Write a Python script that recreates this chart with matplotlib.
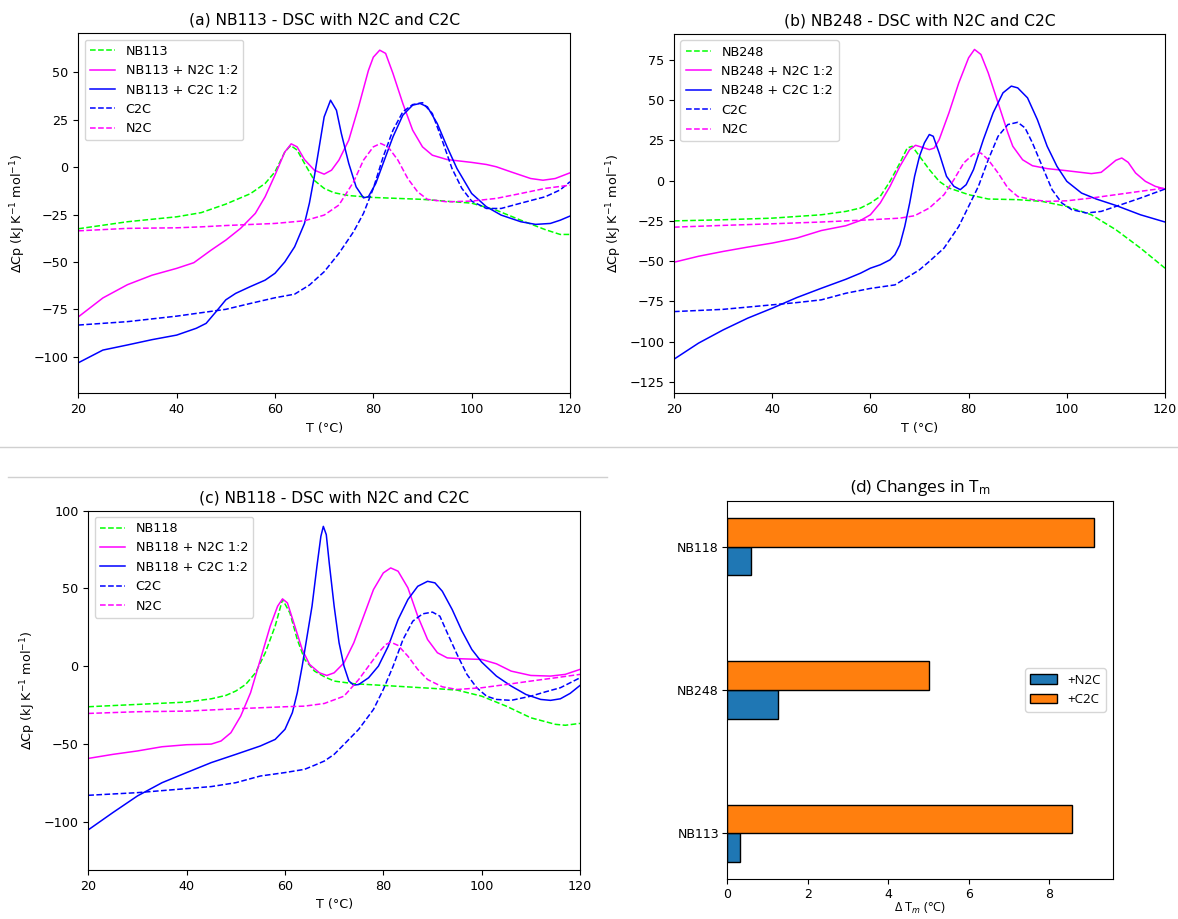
import matplotlib
matplotlib.use("Agg")
import matplotlib.pyplot as plt
from matplotlib.lines import Line2D
import numpy as np

plt.rcParams["font.family"] = ["DejaVu Sans"]
plt.rcParams["mathtext.fontset"] = "dejavusans"
plt.rcParams["mathtext.rm"] = "Open Sans"
plt.rcParams["mathtext.it"] = "Open Sans:italic"

# ---------------- (a) NB113 ----------------
a_prot_T = [20, 30, 40, 45, 50, 55, 58, 60, 62, 63.2, 64.5, 66, 68, 70, 72, 75, 80, 90, 100, 105, 110, 115, 118, 120]
a_prot_cp = [-32.5, -28.8, -26.2, -24, -19.5, -14, -8.6, -2.5, 8, 11.4, 9, 2, -7, -11.2, -13.5, -15, -16, -17, -19,
             -22.7, -28, -33, -35.5, -35.5]

a_n2c_mix_T = [20, 25, 30, 35, 40, 43.5, 47, 50, 53, 56, 58, 60, 62, 63.3, 64.5, 66, 68, 70, 71.5, 73, 75, 77, 79, 80,
               81.3, 82.5, 84, 86, 88, 90, 92, 95, 100, 103, 105, 108, 112, 114.5, 117, 120]
a_n2c_mix_cp = [-79, -69, -62, -57, -53.4, -50.4, -43.8, -38.5, -32.3, -24.4, -15.6, -4.2, 8, 12.3, 10.7, 4, -1.6, -3.7,
                -1.6, 3.7, 14.2, 31.8, 51, 58, 61.7, 60, 49.4, 33.6, 19.5, 10.7, 6.3, 4, 2.5, 1.4, 0.2, -2.5, -6, -6.9,
                -6, -3]

a_c2c_mix_T = [20, 25, 30, 35, 40, 44, 46, 48, 50, 52, 55, 58, 60, 62, 64, 66, 67, 68, 69, 70, 71.3, 72.5, 73.5, 75,
               76.5, 78, 79, 80.5, 82, 84, 86, 88, 89.5, 91, 93, 95, 97, 100, 103, 106, 110, 113, 116, 118, 120]
a_c2c_mix_cp = [-103.2, -96.5, -93.8, -91, -88.6, -85, -82.4, -76.3, -70, -66.6, -63, -59.6, -56, -50, -42, -29.7, -19,
                -5, 10.7, 26.5, 35.3, 30, 17.7, 2, -10.4, -16.2, -15.6, -8.6, 2, 16, 27.4, 32.7, 33.6, 31.8, 23, 10.7,
                -0.7, -13.9, -20.9, -25.3, -28.8, -30.2, -29.7, -28, -25.8]

a_c2c_T = [20, 30, 40, 50, 55, 60, 64, 67, 70, 73, 76, 78, 80, 82, 84, 86, 88, 90, 92, 94, 96, 98, 100, 103, 106, 110,
           115, 118, 120]
a_c2c_cp = [-83.3, -81.5, -78.6, -75, -71.9, -68.9, -67, -62.2, -55.2, -45.5, -34, -24.4, -11.2, 5.4, 19.5, 29.2, 33,
            34, 28.3, 14.2, -0.7, -11.2, -17.9, -21.8, -21.8, -19, -15.6, -12, -7.7]

a_n2c_T = [20, 30, 40, 45, 50, 60, 66, 70, 73, 76, 78, 80, 81.5, 83, 85, 87, 89, 91, 95, 100, 105, 110, 115, 120]
a_n2c_cp = [-33.6, -32.3, -32, -31.5, -30.8, -29.7, -28.3, -25.3, -20, -7.7, 3.7, 10.7, 12.5, 10.7, 3.7, -6, -13, -17,
            -18.3, -17.9, -16.5, -13.9, -11.2, -9.5]

# ---------------- (b) NB248 ----------------
b_prot_T = [20, 30, 40, 50, 55, 58, 60, 62, 64, 66, 67.5, 68.5, 70, 72, 74, 76, 78, 80, 84, 90, 95, 100, 105, 110, 115,
            120]
b_prot_cp = [-25, -24.3, -23.3, -21.2, -19.1, -17, -13.9, -9.8, -0.4, 11, 20.3, 21.4, 15.2, 6.9, -0.4, -4.6, -6.6, -8.7,
             -11.4, -11.8, -12.9, -16, -21.2, -30.5, -41.9, -54.4]

b_n2c_mix_T = [20, 25, 30, 35, 40, 45, 50, 55, 58, 60, 62, 64, 66, 68, 69.2, 70.5, 72, 73, 74, 76, 78, 80, 81.2, 82.5,
               84, 86, 88, 89, 91, 93, 96, 100, 105, 107, 108.5, 110, 111.2, 112.5, 114, 116, 118, 120]
b_n2c_mix_cp = [-50.7, -47, -44, -41.3, -38.8, -35.7, -31, -28, -24.7, -21.2, -13.9, -3.5, 8.9, 19.3, 22, 20.8, 19.3,
                20.3, 25.5, 42.2, 60.8, 76.4, 81.6, 78.5, 67, 48.4, 29.7, 21.4, 13, 9.3, 7.5, 6.2, 4.4, 5.2, 8.9, 12.7,
                14.1, 11.4, 4.8, -0.4, -3.5, -5.2]

b_c2c_mix_T = [20, 25, 30, 35, 40, 45, 50, 55, 58, 60, 62, 64, 65, 66, 67, 68, 69, 70, 71, 72, 72.8, 74, 75.5, 77, 78.3,
               79.5, 81, 83, 85, 87, 88.7, 90, 92, 94, 96, 98, 100, 103, 106, 110, 115, 120]
b_c2c_mix_cp = [-111, -101, -92.8, -85.5, -79.3, -72.7, -66.9, -61.3, -57.5, -54.4, -52.3, -49.2, -46, -39.9, -28.4,
                -13.9, 2.7, 15.2, 23.5, 28.7, 27.6, 17.2, 2.7, -3.5, -5.6, -2.5, 6.9, 25.5, 42.2, 54.6, 58.8, 57.7,
                51.5, 38, 21.4, 8.9, -0.4, -7.7, -11.4, -15.4, -21.2, -25.7]

b_c2c_T = [20, 30, 40, 45, 50, 55, 60, 65, 68, 70, 72, 75, 78, 80, 82, 84, 86, 88, 90, 91.5, 93, 95, 97, 99, 101, 104,
           107, 110, 115, 120]
b_c2c_cp = [-81.4, -80, -77.2, -75.8, -74.1, -70, -67, -64.8, -59.2, -55.4, -50.2, -41.9, -28.4, -16, -3.5, 13, 27.6,
            34.9, 36.3, 32.8, 23.5, 8.9, -5.6, -13.9, -18, -20.1, -19.1, -16, -10.8, -5.2]

b_n2c_T = [20, 30, 40, 50, 60, 66, 69, 72, 75, 77, 79, 81, 82.5, 84, 86, 88, 90, 93, 96, 100, 105, 110, 115, 120]
b_n2c_cp = [-28.9, -27.8, -26.8, -25.7, -24.3, -23.3, -21.8, -17, -8.7, 0.6, 11, 16.6, 17.2, 13, 4.8, -4.6, -9.8, -11.8,
            -12.9, -12.5, -10.8, -8.7, -6.6, -4.6]

# ---------------- (c) NB118 ----------------
c_prot_T = [20, 30, 40, 45, 48, 50, 52, 54, 56, 58, 59.5, 61, 62.5, 64, 66, 68, 70, 74, 80, 90, 95, 100, 105, 110, 115,
            117, 120]
c_prot_cp = [-26.1, -24.6, -23.1, -21, -18.8, -16, -11.8, -4.3, 8.6, 25.7, 42.8, 34.2, 17.1, 4.3, -3.2, -6.8, -9.6,
             -11.3, -12.4, -14.3, -15.4, -19.3, -25.7, -33.2, -37.4, -38, -36.8]

c_n2c_mix_T = [20, 25, 30, 35, 40, 45, 47, 49, 51, 53, 55, 57, 58.5, 59.5, 60.5, 62, 63.5, 65, 67, 68.5, 70, 72, 74, 76,
               78, 80, 81.5, 83, 85, 87, 89, 91, 93, 96, 100, 103, 106, 110, 114, 117, 120]
c_n2c_mix_cp = [-59.3, -56.7, -54.5, -51.8, -50.5, -50.1, -48.1, -42.8, -32.1, -17.1, 4.3, 25.7, 38.5, 43.2, 40.6, 25.7,
                10.7, 1.1, -4.3, -6, -4.3, 2.1, 15, 32.1, 49.2, 59.9, 63.1, 61, 50.3, 32.1, 17.1, 8.6, 5.3, 4.7, 4.3,
                1.5, -3.2, -6, -6.4, -5.3, -2.1]

c_c2c_mix_T = [20, 25, 30, 35, 40, 45, 50, 55, 58, 60, 61.5, 62.5, 63.5, 64.5, 65.5, 66.5, 67.3, 67.8, 68.4, 69, 70, 71,
               72, 73, 74, 75, 77, 79, 81, 83, 85, 87, 89, 90.5, 92, 94, 96, 98, 100, 103, 106, 109, 112, 114, 116,
               118, 120]
c_c2c_mix_cp = [-105.2, -94.1, -83.4, -74.9, -68.4, -62, -56.7, -51.3, -47.1, -40.6, -29.9, -17.1, 0, 19.3, 38.5, 64.2,
                83.4, 89.8, 84.5, 66.3, 38.5, 15, 0, -9.6, -12.2, -11.8, -7.5, 0, 12.8, 29.9, 42.8, 51.3, 54.5, 53.5,
                48.1, 36.4, 22.5, 10.7, 2.6, -6.4, -12.8, -18.2, -21.4, -22, -21, -17.5, -12.4]

c_c2c_T = [20, 30, 40, 45, 50, 55, 60, 64, 66, 68, 70, 72, 75, 78, 80, 82, 84, 86, 88, 90, 91.5, 93, 95, 97, 99, 101,
           103, 106, 110, 113, 116, 120]
c_c2c_cp = [-83, -81.3, -78.7, -77.4, -74.9, -70.6, -68.4, -66.3, -63.7, -61, -56.7, -50.3, -40.6, -27.8, -15, 0, 17.1,
            28.9, 33.6, 34.7, 32.1, 21.4, 7.5, -5.3, -13.9, -19.3, -21.4, -22, -19.3, -16.5, -13.9, -7.5]

c_n2c_T = [20, 30, 40, 50, 60, 64, 68, 72, 75, 77, 79, 80.5, 81.5, 83, 85, 87, 89, 92, 95, 100, 105, 110, 115, 120]
c_n2c_cp = [-30.4, -29.3, -28.9, -27.4, -26.1, -25.7, -24, -19.3, -8.6, 0, 8.6, 13.9, 15.4, 13.3, 6.4, -2.1, -8.6,
            -13.3, -15, -13.9, -11.8, -9.6, -7.5, -5.3]

# ---------------- (d) Tm shifts ----------------
samples = ["NB113", "NB248", "NB118"]
dtm_n2c = [0.32, 1.27, 0.60]
dtm_c2c = [8.57, 5.00, 9.12]

W, H = 1178, 919
fig = plt.figure(figsize=(W / 100, H / 100), dpi=100)


def axes_px(left, top, right, bottom):
    return fig.add_axes([left / W, 1 - bottom / H, (right - left) / W, (bottom - top) / H])


FS = 9.2
LW = 1.1


def dsc_panel(ax, title, name, curves, ylim):
    prot, n2c_mix, c2c_mix, c2c, n2c = curves
    ax.plot(*prot, "--", color="#00ff00", lw=LW, label=name)
    ax.plot(*n2c_mix, "-", color="#ff00ff", lw=LW, label=f"{name} + N2C 1:2")
    ax.plot(*c2c_mix, "-", color="#0000ff", lw=LW, label=f"{name} + C2C 1:2")
    ax.plot(*c2c, "--", color="#0000ff", lw=LW, label="C2C")
    ax.plot(*n2c, "--", color="#ff00ff", lw=LW, label="N2C")
    ax.set_xlim(20, 120)
    ax.set_ylim(*ylim)
    ax.set_title(title, fontsize=11.2)
    ax.set_xlabel("T (°C)", fontsize=FS)
    ax.set_ylabel(r"$\Delta$Cp (kJ K$^{-1}$ mol$^{-1}$)", fontsize=FS)
    ax.tick_params(labelsize=FS)
    ax.legend(loc="upper left", fontsize=FS)


ax_a = axes_px(78.3, 33.3, 570, 393.3)
dsc_panel(ax_a, "(a) NB113 - DSC with N2C and C2C", "NB113",
          [(a_prot_T, a_prot_cp), (a_n2c_mix_T, a_n2c_mix_cp), (a_c2c_mix_T, a_c2c_mix_cp),
           (a_c2c_T, a_c2c_cp), (a_n2c_T, a_n2c_cp)], (-119.3, 70.6))

ax_b = axes_px(674, 34, 1165, 393.3)
dsc_panel(ax_b, "(b) NB248 - DSC with N2C and C2C", "NB248",
          [(b_prot_T, b_prot_cp), (b_n2c_mix_T, b_n2c_mix_cp), (b_c2c_mix_T, b_c2c_mix_cp),
           (b_c2c_T, b_c2c_cp), (b_n2c_T, b_n2c_cp)], (-132.2, 91.2))

ax_c = axes_px(88.3, 510.5, 580, 870)
dsc_panel(ax_c, "(c) NB118 - DSC with N2C and C2C", "NB118",
          [(c_prot_T, c_prot_cp), (c_n2c_mix_T, c_n2c_mix_cp), (c_c2c_mix_T, c_c2c_mix_cp),
           (c_c2c_T, c_c2c_cp), (c_n2c_T, c_n2c_cp)], (-131, 100))

# bar chart of melting temperature shifts
ax_d = axes_px(727.3, 500.7, 1112.7, 879.3)
ypos = np.arange(len(samples))
bh = 0.2
ax_d.barh(ypos - bh / 2, dtm_n2c, height=bh, color="#1f77b4", edgecolor="black", label="+N2C")
ax_d.barh(ypos + bh / 2, dtm_c2c, height=bh, color="#ff7f0e", edgecolor="black", label="+C2C")
ax_d.set_yticks(ypos)
ax_d.set_yticklabels(samples)
ax_d.tick_params(labelsize=9, pad=2.5)
ax_d.set_title(r"(d) Changes in T$_\mathrm{m}$", fontsize=12.5, family="Open Sans", math_fontfamily="custom")
ax_d.set_xlabel(r"$\Delta$ T$_m$ (°C)", fontsize=9.2, family="Open Sans", math_fontfamily="custom", labelpad=0.5)
ax_d.legend(loc="center right", prop={"family": "Open Sans", "size": 9.5})

# thin grey separators between the stacked panels
fig.add_artist(Line2D([0, 1], [1 - 446.5 / H] * 2, color="#d0d0d0", lw=1))
fig.add_artist(Line2D([8 / W, 607 / W], [1 - 476.5 / H] * 2, color="#d0d0d0", lw=1))

fig.savefig("out.png", dpi=100)
